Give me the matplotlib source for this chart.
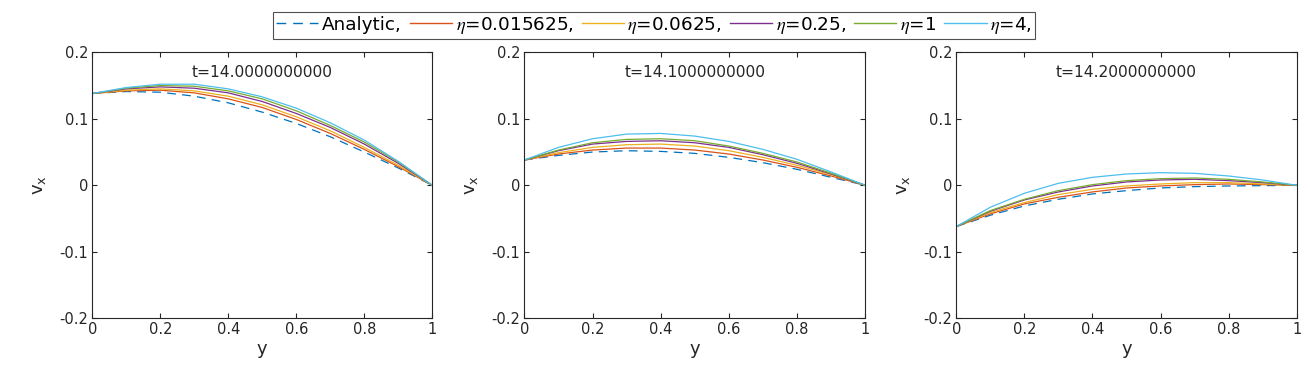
import matplotlib
matplotlib.use("Agg")
import matplotlib.pyplot as plt
import numpy as np

plt.rcParams['font.family'] = ['DejaVu Sans']
plt.rcParams['mathtext.fontset'] = 'stix'
plt.rcParams['axes.unicode_minus'] = False

y_grid = [0.0, 0.1, 0.2, 0.3, 0.4, 0.5, 0.6, 0.7, 0.8, 0.9, 1.0]
labels = ['Analytic,', r'$\eta$=0.015625,', r'$\eta$=0.0625,', r'$\eta$=0.25,', r'$\eta$=1', r'$\eta$=4,']
times = ['t=14.0000000000', 't=14.1000000000', 't=14.2000000000']

# panel 1 (t=14.0)
p1_analytic = [0.138, 0.141, 0.140, 0.134, 0.124, 0.110, 0.093, 0.073, 0.050, 0.026, 0.0]
p1_eta1 = [0.138, 0.142, 0.143, 0.139, 0.130, 0.117, 0.099, 0.078, 0.054, 0.028, 0.0]
p1_eta2 = [0.138, 0.143, 0.145, 0.142, 0.134, 0.121, 0.103, 0.082, 0.057, 0.030, 0.0]
p1_eta3 = [0.138, 0.145, 0.148, 0.146, 0.139, 0.126, 0.108, 0.087, 0.062, 0.033, 0.0]
p1_eta4 = [0.138, 0.146, 0.150, 0.149, 0.142, 0.130, 0.112, 0.090, 0.065, 0.035, 0.0]
p1_eta5 = [0.138, 0.147, 0.152, 0.152, 0.145, 0.133, 0.116, 0.094, 0.068, 0.036, 0.0]

# panel 2 (t=14.1)
p2_analytic = [0.038, 0.045, 0.050, 0.052, 0.051, 0.048, 0.042, 0.034, 0.024, 0.012, 0.0]
p2_eta1 = [0.038, 0.047, 0.053, 0.056, 0.056, 0.053, 0.047, 0.038, 0.027, 0.014, 0.0]
p2_eta2 = [0.038, 0.049, 0.057, 0.061, 0.062, 0.059, 0.052, 0.042, 0.030, 0.016, 0.0]
p2_eta3 = [0.038, 0.052, 0.062, 0.066, 0.067, 0.064, 0.057, 0.046, 0.033, 0.017, 0.0]
p2_eta4 = [0.038, 0.053, 0.064, 0.069, 0.070, 0.067, 0.059, 0.048, 0.035, 0.018, 0.0]
p2_eta5 = [0.038, 0.057, 0.070, 0.077, 0.078, 0.074, 0.066, 0.054, 0.039, 0.020, 0.0]

# panel 3 (t=14.2)
p3_analytic = [-0.062, -0.045, -0.031, -0.021, -0.013, -0.008, -0.004, -0.002, -0.001, -0.0005, 0.0]
p3_eta1 = [-0.062, -0.043, -0.028, -0.018, -0.010, -0.004, -0.001, 0.001, 0.002, 0.001, 0.0]
p3_eta2 = [-0.062, -0.041, -0.026, -0.014, -0.006, -0.001, 0.002, 0.004, 0.004, 0.002, 0.0]
p3_eta3 = [-0.062, -0.039, -0.022, -0.010, -0.001, 0.005, 0.008, 0.009, 0.007, 0.004, 0.0]
p3_eta4 = [-0.062, -0.038, -0.021, -0.008, 0.001, 0.007, 0.010, 0.011, 0.009, 0.005, 0.0]
p3_eta5 = [-0.062, -0.033, -0.012, 0.003, 0.012, 0.017, 0.019, 0.018, 0.014, 0.008, 0.0]

panels = [
    [p1_analytic, p1_eta1, p1_eta2, p1_eta3, p1_eta4, p1_eta5],
    [p2_analytic, p2_eta1, p2_eta2, p2_eta3, p2_eta4, p2_eta5],
    [p3_analytic, p3_eta1, p3_eta2, p3_eta3, p3_eta4, p3_eta5],
]

colors = ['#0072BD', '#D95319', '#EDB120', '#7E2F8E', '#77AC30', '#4DBEEE']
ink = '#262626'

W, H = 1310, 370
fig = plt.figure(figsize=(W / 100, H / 100), dpi=100)

lefts = [92.3, 524.3, 956.3]
widths = [340, 341, 340.4]
top, bottom = 52.3, 318.3

handles = []
for i, (lx, wd) in enumerate(zip(lefts, widths)):
    ax = fig.add_axes([lx / W, 1 - bottom / H, wd / W, (bottom - top) / H])
    for j, series in enumerate(panels[i]):
        if j == 0:
            ln, = ax.plot(y_grid, series, color=colors[j], lw=0.9, linestyle='--', dashes=(7, 5))
        else:
            ln, = ax.plot(y_grid, series, color=colors[j], lw=0.9, linestyle='-')
        if i == 0:
            handles.append(ln)
    ax.set_xlim(0, 1)
    ax.set_ylim(-0.2, 0.2)
    ax.set_xticks([0, 0.2, 0.4, 0.6, 0.8, 1])
    ax.set_xticklabels(['0', '0.2', '0.4', '0.6', '0.8', '1'])
    ax.set_yticks([-0.2, -0.1, 0, 0.1, 0.2])
    ax.set_yticklabels(['-0.2', '-0.1', '0', '0.1', '0.2'])
    ax.tick_params(direction='in', top=True, right=True, length=3.5, width=0.8,
                   labelsize=10.5, colors=ink, pad=3)
    for s in ax.spines.values():
        s.set_color(ink)
        s.set_linewidth(0.8)
    ax.set_xlabel('y', fontsize=13, color=ink, labelpad=2)
    ax.set_ylabel(r'$\mathregular{v_x}$', fontsize=13, color=ink, labelpad=8)
    ax.text(0.5, 0.925, times[i], transform=ax.transAxes, ha='center', va='center',
            fontsize=11.2, color=ink)

leg = fig.legend(handles, labels, loc='upper center', bbox_to_anchor=(654 / W, 1 - 12 / H),
                 ncol=6, fontsize=13.2, frameon=True, fancybox=False, handlelength=2.3,
                 handletextpad=0.2, columnspacing=0.45, borderpad=0.15, borderaxespad=0)
leg.get_frame().set_edgecolor(ink)
leg.get_frame().set_linewidth(0.8)
for t in leg.get_texts():
    t.set_color('black')
for lh in leg.get_lines():
    lh.set_linewidth(1.0)

fig.savefig('out.png', dpi=100)
